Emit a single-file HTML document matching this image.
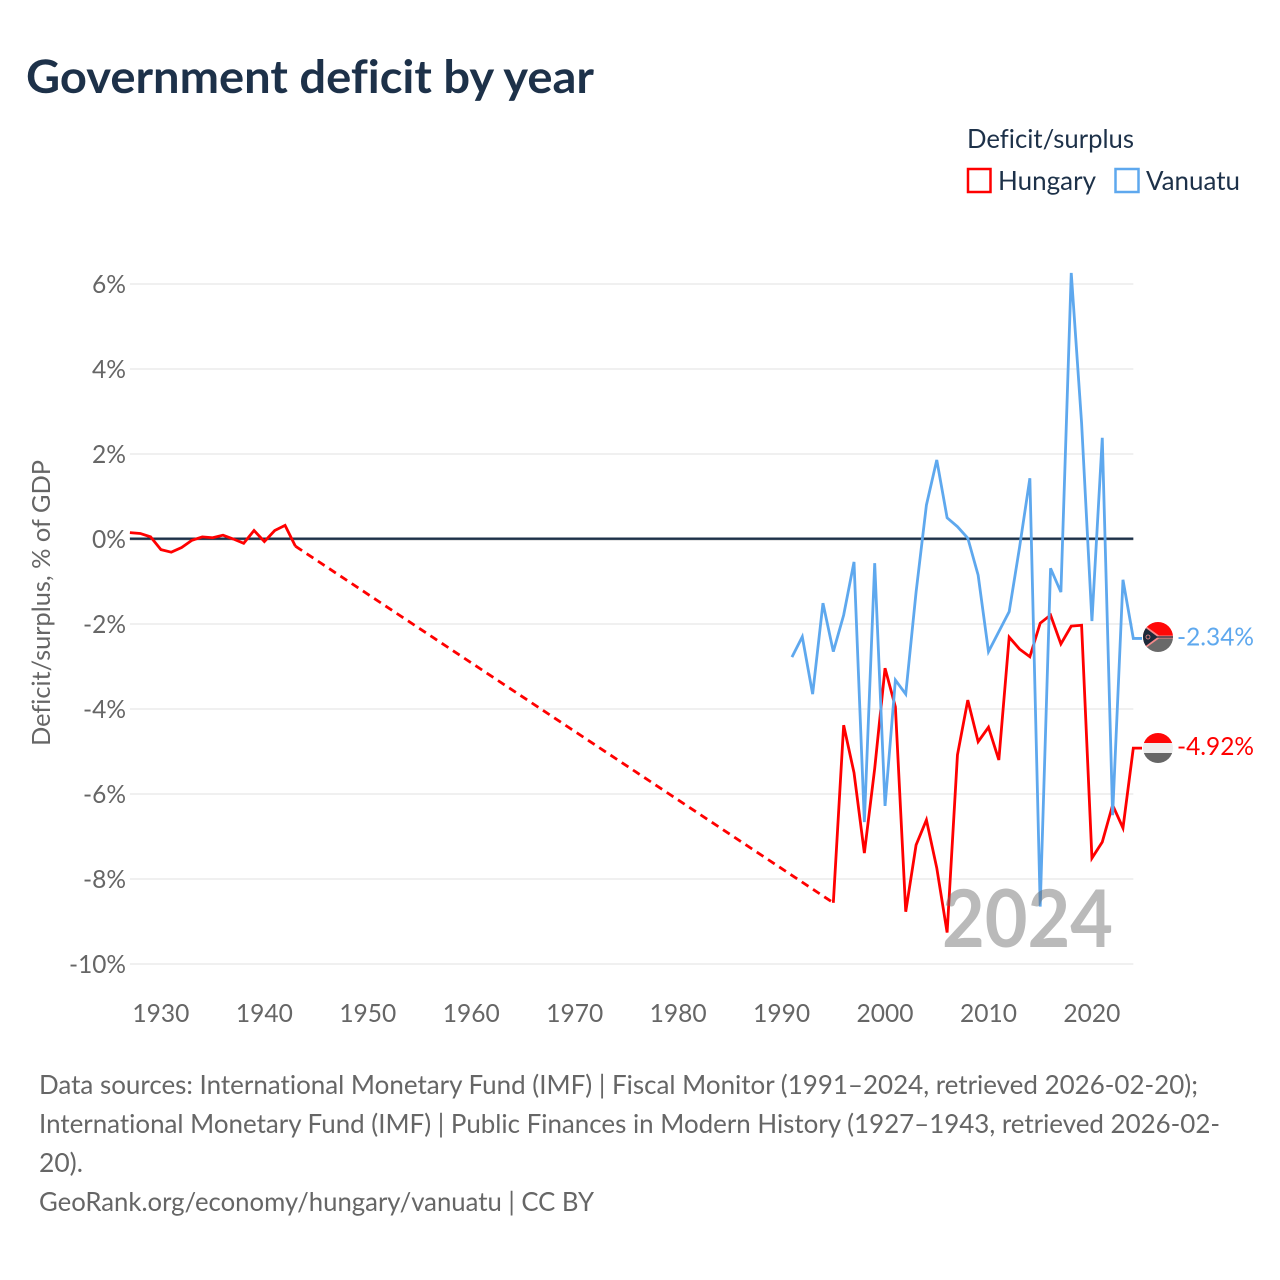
<!DOCTYPE html>
<html lang="en">
<head>
<meta charset="utf-8">
<title>Government deficit by year</title>
<style>
html,body{margin:0;padding:0;background:#fff;width:1280px;height:1280px;overflow:hidden}
svg{display:block}
text{font-family:"Lato","Carlito","Liberation Sans",sans-serif;font-variant-ligatures:none;font-feature-settings:"liga" 0,"clig" 0}
</style>
</head>
<body>
<svg id="chart" xmlns="http://www.w3.org/2000/svg" width="1280" height="1280" viewBox="0 0 1280 1280">
  <rect x="0" y="0" width="1280" height="1280" fill="#fff"/>
  <text x="26" y="93" font-size="46" font-weight="700" fill="#1d3149" textLength="568" lengthAdjust="spacingAndGlyphs">Government deficit by year</text>

  <text x="967" y="148" font-size="26" fill="#1d3149" textLength="167" lengthAdjust="spacingAndGlyphs">Deficit/surplus</text>
  <rect x="968" y="169" width="22.5" height="23" fill="none" stroke="#ff0000" stroke-width="2.5"/>
  <text x="998" y="190" font-size="26" fill="#1d3149" textLength="98" lengthAdjust="spacingAndGlyphs">Hungary</text>
  <rect x="1115.5" y="169" width="23" height="23" fill="none" stroke="#5ea8ee" stroke-width="2.5"/>
  <text x="1146" y="190" font-size="26" fill="#1d3149" textLength="94" lengthAdjust="spacingAndGlyphs">Vanuatu</text>

  <text transform="translate(50,603) rotate(-90)" text-anchor="middle" font-size="25" fill="#666666" textLength="286" lengthAdjust="spacingAndGlyphs">Deficit/surplus, % of GDP</text>

  <g id="grid"></g>
  <g id="yticks"></g>
  <g id="xticks"></g>
  <g id="series"></g>

  <text x="942" y="947" font-size="80" font-weight="700" fill="#666666" fill-opacity="0.45" textLength="171" lengthAdjust="spacingAndGlyphs">2024</text>

  <defs>
    <clipPath id="clip-hu"><circle cx="1158" cy="748" r="15"/></clipPath>
    <clipPath id="clip-vu"><circle cx="1158" cy="637" r="15"/></clipPath>
  </defs>
  <g clip-path="url(#clip-vu)">
    <rect x="1143" y="622" width="30" height="15" fill="#ff0808"/>
    <rect x="1143" y="637" width="30" height="15" fill="#696969"/>
    <path d="M1143 624 L1159 635.5 L1173 635.5 L1173 638.5 L1159 638.5 L1143 650 Z" fill="#f58a8a"/>
    <path d="M1143 626 L1157 636.4 L1173 636.4 L1173 637.6 L1157 637.6 L1143 648 Z" fill="#1d2a3a"/>
    <circle cx="1148" cy="637" r="2" fill="none" stroke="#f58a8a" stroke-width="0.8"/>
  </g>
  <g clip-path="url(#clip-hu)">
    <rect x="1143" y="733" width="30" height="10" fill="#ff0808"/>
    <rect x="1143" y="743" width="30" height="10" fill="#eeeeee"/>
    <rect x="1143" y="753" width="30" height="10" fill="#666666"/>
  </g>
  <text id="label-vu" x="1177" font-size="25" fill="#5ea8ee" textLength="77" lengthAdjust="spacingAndGlyphs"></text>
  <text id="label-hu" x="1177" font-size="25" fill="#ff0000" textLength="77" lengthAdjust="spacingAndGlyphs"></text>

  <g font-size="26" fill="#666666">
    <text x="39" y="1094" textLength="1159" lengthAdjust="spacingAndGlyphs">Data sources: International Monetary Fund (IMF) | Fiscal Monitor (1991–2024, retrieved 2026-02-20);</text>
    <text x="39" y="1133" textLength="1181" lengthAdjust="spacingAndGlyphs">International Monetary Fund (IMF) | Public Finances in Modern History (1927–1943, retrieved 2026-02-</text>
    <text x="39" y="1172" textLength="44" lengthAdjust="spacingAndGlyphs">20).</text>
    <text x="39" y="1211" textLength="555" lengthAdjust="spacingAndGlyphs">GeoRank.org/economy/hungary/vanuatu | CC BY</text>
  </g>
</svg>
<script>
const xTickYears = [1930,1940,1950,1960,1970,1980,1990,2000,2010,2020];
const yTickValues = [6,4,2,0,-2,-4,-6,-8,-10];

const hungaryYears = [1927,1928,1929,1930,1931,1932,1933,1934,1935,1936,1937,1938,1939,1940,1941,1942,1943,
  1995,1996,1997,1998,1999,2000,2001,2002,2003,2004,2005,2006,2007,2008,2009,2010,2011,2012,2013,2014,2015,2016,2017,2018,2019,2020,2021,2022,2023,2024];
const hungaryValues = [0.15,0.13,0.05,-0.25,-0.31,-0.2,-0.03,0.05,0.03,0.09,0,-0.1,0.2,-0.06,0.2,0.32,-0.17,
  -8.56,-4.38,-5.5,-7.39,-5.4,-3.04,-3.95,-8.77,-7.2,-6.61,-7.74,-9.26,-5.08,-3.79,-4.77,-4.43,-5.2,-2.31,-2.59,-2.77,-1.98,-1.79,-2.47,-2.05,-2.03,-7.51,-7.13,-6.26,-6.8,-4.92];

const vanuatuYears = [1991,1992,1993,1994,1995,1996,1997,1998,1999,2000,2001,2002,2003,2004,2005,2006,2007,2008,2009,2010,2011,2012,2013,2014,2015,2016,2017,2018,2019,2020,2021,2022,2023,2024];
const vanuatuValues = [-2.78,-2.3,-3.65,-1.51,-2.65,-1.79,-0.54,-6.66,-0.57,-6.28,-3.32,-3.65,-1.25,0.8,1.86,0.5,0.29,0.02,-0.85,-2.65,-2.18,-1.71,-0.2,1.43,-8.65,-0.69,-1.25,6.26,2.73,-1.93,2.38,-6.5,-0.96,-2.34];

const SVGNS = 'http://www.w3.org/2000/svg';
function xScale(year){ return 129.9 + (year - 1927) * (1091.9 - 160.9) / 90; }
function yScale(v){ return 539 - v * 42.5; }
function mk(tag, parent){ const e = document.createElementNS(SVGNS, tag); parent.appendChild(e); return e; }
function tickWidth(s){ let w = 0; for (const c of s){ w += c === '%' ? 20 : c === '-' ? 9 : c === '.' ? 5 : 14; } return w; }

const grid = document.getElementById('grid');
const yt = document.getElementById('yticks');
const xt = document.getElementById('xticks');
const series = document.getElementById('series');
const x0 = xScale(1927), x1 = xScale(2024);

yTickValues.forEach(function(v){
  const y = yScale(v);
  const line = mk('line', grid);
  
  
  line.setAttribute('x1', x0); line.setAttribute('x2', x1);
  line.setAttribute('y1', y); line.setAttribute('y2', y);
  line.setAttribute('stroke', v === 0 ? '#c9c9c9' : '#ececec');
  line.setAttribute('stroke-width', v === 0 ? 3 : 1.5);
  const t = mk('text', yt);
  
  
  const s = v + '%';
  t.textContent = s;
  t.setAttribute('x', 126 - tickWidth(s)); t.setAttribute('y', y + 9);
  t.setAttribute('font-size', 25); t.setAttribute('fill', '#666666');
  t.setAttribute('textLength', tickWidth(s)); t.setAttribute('lengthAdjust', 'spacingAndGlyphs');
});

xTickYears.forEach(function(yr){
  const t = mk('text', xt);
  
  
  const s = String(yr);
  t.textContent = s;
  t.setAttribute('x', xScale(yr) - 28.5); t.setAttribute('y', 1022);
  t.setAttribute('font-size', 25); t.setAttribute('fill', '#666666');
  t.setAttribute('textLength', 57); t.setAttribute('lengthAdjust', 'spacingAndGlyphs');
});

const zero = mk('line', series);


zero.setAttribute('x1', x0); zero.setAttribute('x2', x1);
zero.setAttribute('y1', yScale(0) - 0.3); zero.setAttribute('y2', yScale(0) - 0.3);
zero.setAttribute('stroke', '#1d3149'); zero.setAttribute('stroke-width', 2.4);

function drawSeries(years, values, color, extendTo){
  let solid = [];
  function flush(){
    if (solid.length > 1) {
      const p = mk('polyline', series);
      
      
      p.setAttribute('points', solid.join(' '));
      p.setAttribute('fill', 'none'); p.setAttribute('stroke', color);
      p.setAttribute('stroke-width', 2.8); p.setAttribute('stroke-linejoin', 'miter');
    }
    solid = [];
  }
  years.forEach(function(yr, i){
    const pt = xScale(yr) + ',' + yScale(values[i]);
    if (i > 0 && yr - years[i - 1] > 1) {
      flush();
      const d = mk('line', series);
      
      
      d.setAttribute('x1', xScale(years[i - 1])); d.setAttribute('y1', yScale(values[i - 1]));
      d.setAttribute('x2', xScale(yr)); d.setAttribute('y2', yScale(values[i]));
      d.setAttribute('stroke', color); d.setAttribute('stroke-width', 2.8);
      d.setAttribute('stroke-dasharray', '8 5.5');
    }
    solid.push(pt);
  });
  solid.push(extendTo + ',' + yScale(values[values.length - 1]));
  flush();
}

drawSeries(hungaryYears, hungaryValues, '#ff0000', 1142);
drawSeries(vanuatuYears, vanuatuValues, '#5ea8ee', 1142);

const labelHu = document.getElementById('label-hu');
const huLast = hungaryValues[hungaryValues.length - 1];
labelHu.textContent = huLast.toFixed(2) + '%';
labelHu.setAttribute('y', yScale(huLast) + 7);

const labelVu = document.getElementById('label-vu');
const vuLast = vanuatuValues[vanuatuValues.length - 1];
labelVu.textContent = vuLast.toFixed(2) + '%';
labelVu.setAttribute('y', yScale(vuLast) + 7);
</script>
</body>
</html>
